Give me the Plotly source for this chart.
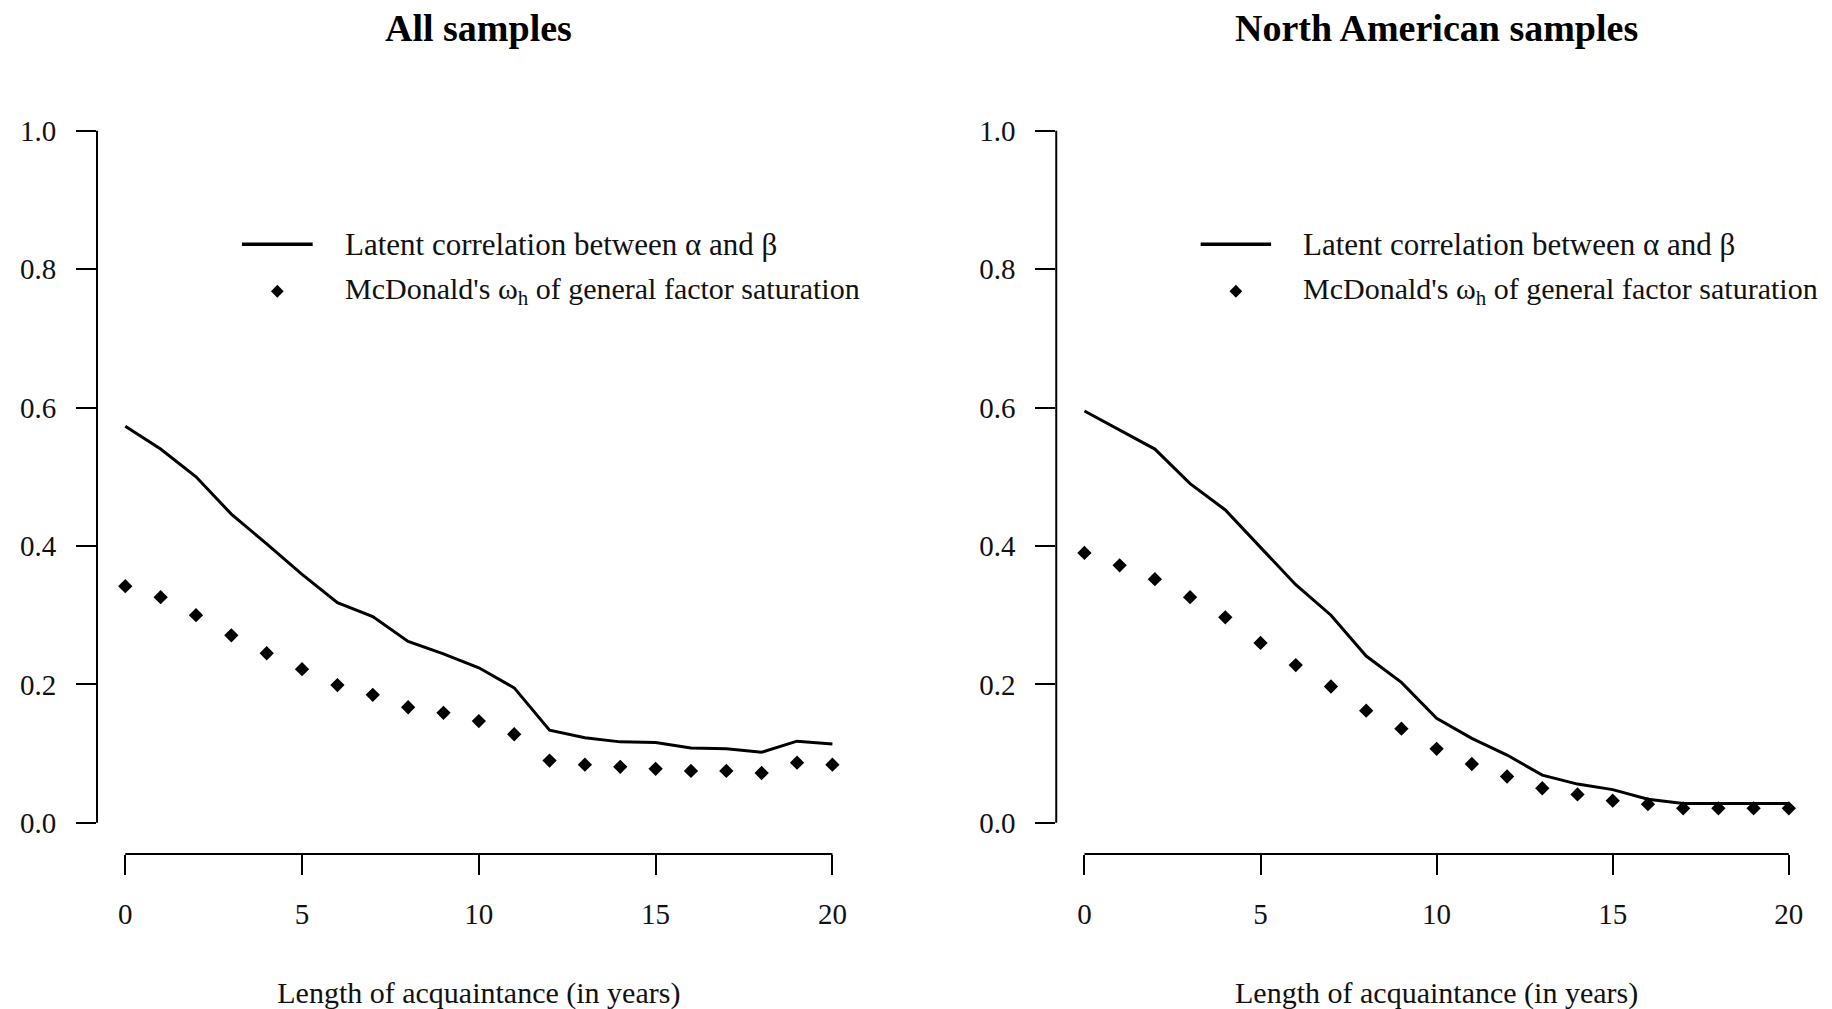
import plotly.graph_objects as go

years = list(range(0, 21))

all_latent = [0.573, 0.540, 0.500, 0.446, 0.403, 0.359, 0.318, 0.298, 0.262, 0.244, 0.224,
              0.195, 0.134, 0.123, 0.117, 0.116, 0.108, 0.107, 0.102, 0.118, 0.114]
all_omega = [0.342, 0.326, 0.300, 0.271, 0.245, 0.222, 0.199, 0.185, 0.167, 0.159, 0.147,
             0.128, 0.090, 0.084, 0.081, 0.078, 0.075, 0.075, 0.072, 0.087, 0.084]

na_latent = [0.595, 0.567, 0.540, 0.490, 0.452, 0.398, 0.344, 0.300, 0.241, 0.203, 0.151,
             0.122, 0.098, 0.069, 0.056, 0.048, 0.034, 0.028, 0.028, 0.028, 0.028]
na_omega = [0.390, 0.372, 0.352, 0.326, 0.297, 0.260, 0.228, 0.197, 0.162, 0.136, 0.107,
            0.085, 0.067, 0.050, 0.041, 0.032, 0.027, 0.021, 0.021, 0.021, 0.021]

panel_titles = ["All samples", "North American samples"]
legend_labels = ["Latent correlation between \u03b1 and \u03b2",
                 "McDonald's \u03c9<sub>h</sub> of general factor saturation"]
x_title = "Length of acquaintance (in years)"
x_ticks = [0, 5, 10, 15, 20]
y_ticks = [0.0, 0.2, 0.4, 0.6, 0.8, 1.0]

FONT = "Liberation Serif"
TXT = "#111111"
W, H = 1832, 1009
ML, MR, MT, MB = 86, 23, 95, 163

fig = go.Figure()

panels = [(all_latent, all_omega, "x", "y"), (na_latent, na_omega, "x2", "y2")]
for latent, omega, xa, ya in panels:
    fig.add_trace(go.Scatter(x=years, y=latent, mode="lines", xaxis=xa, yaxis=ya,
                             line=dict(color="black", width=3), name=legend_labels[0],
                             showlegend=False))
    fig.add_trace(go.Scatter(x=years, y=omega, mode="markers", xaxis=xa, yaxis=ya,
                             marker=dict(symbol="diamond", size=11, color="black"),
                             name=legend_labels[1], showlegend=False))

axis_common = dict(showgrid=False, zeroline=False, showline=False, ticks="outside",
                   ticklen=20, tickwidth=2, tickcolor="black",
                   tickfont=dict(family=FONT, size=29, color=TXT))

xtitle = dict(text=x_title, font=dict(family=FONT, size=30, color=TXT), standoff=53)

fig.update_layout(
    width=W, height=H,
    margin=dict(l=ML, r=MR, t=MT, b=MB),
    paper_bgcolor="white", plot_bgcolor="white",
    xaxis=dict(domain=[0, 0.444], range=[-0.8, 20.8], tickvals=x_ticks, anchor="y",
               ticklabelstandoff=14, title=xtitle, **axis_common),
    yaxis=dict(domain=[0, 1], range=[-0.045, 1.04], tickvals=y_ticks, tickformat=".1f",
               anchor="x", ticklabelstandoff=14, **axis_common),
    xaxis2=dict(domain=[0.5577, 1], range=[-0.8, 20.8], tickvals=x_ticks, anchor="y2",
                ticklabelstandoff=14, title=xtitle, **axis_common),
    yaxis2=dict(domain=[0, 1], range=[-0.045, 1.04], tickvals=y_ticks, tickformat=".1f",
                anchor="x2", ticklabelstandoff=14, **axis_common),
    showlegend=False,
)

shapes = []
annotations = []
for i, (xa, ya) in enumerate([("x", "y"), ("x2", "y2")]):
    # R-style axis lines spanning only the tick range
    shapes.append(dict(type="line", xref=f"{xa} domain", yref=ya, x0=0, x1=0,
                       y0=y_ticks[0], y1=y_ticks[-1], line=dict(color="black", width=2)))
    shapes.append(dict(type="line", xref=xa, yref=f"{ya} domain", x0=x_ticks[0], x1=x_ticks[-1],
                       y0=0, y1=0, line=dict(color="black", width=2)))
    # legend keys
    shapes.append(dict(type="line", xref=xa, yref=ya, x0=3.3, x1=5.3, y0=0.836, y1=0.836,
                       line=dict(color="black", width=3.5)))
    shapes.append(dict(type="path", xref=xa, yref=ya,
                       path="M 4.12,0.768 L 4.3,0.7774 L 4.48,0.768 L 4.3,0.7586 Z",
                       fillcolor="black", line=dict(color="black", width=0)))
    annotations.append(dict(xref=xa, yref=ya, x=6.15, y=0.836, text=legend_labels[0],
                            showarrow=False, xanchor="left", yanchor="middle",
                            font=dict(family=FONT, size=31, color=TXT)))
    annotations.append(dict(xref=xa, yref=ya, x=6.15, y=0.768, text=legend_labels[1],
                            showarrow=False, xanchor="left", yanchor="middle",
                            font=dict(family=FONT, size=30, color=TXT)))
    # panel titles
    annotations.append(dict(xref=f"{xa} domain", yref="paper", x=(0.8 + 10) / 21.6, y=1.1,
                            text=f"<b>{panel_titles[i]}</b>", showarrow=False,
                            xanchor="center", yanchor="middle",
                            font=dict(family=FONT, size=38, color="black")))

fig.update_layout(shapes=shapes, annotations=annotations)
fig.write_html("out.html")
